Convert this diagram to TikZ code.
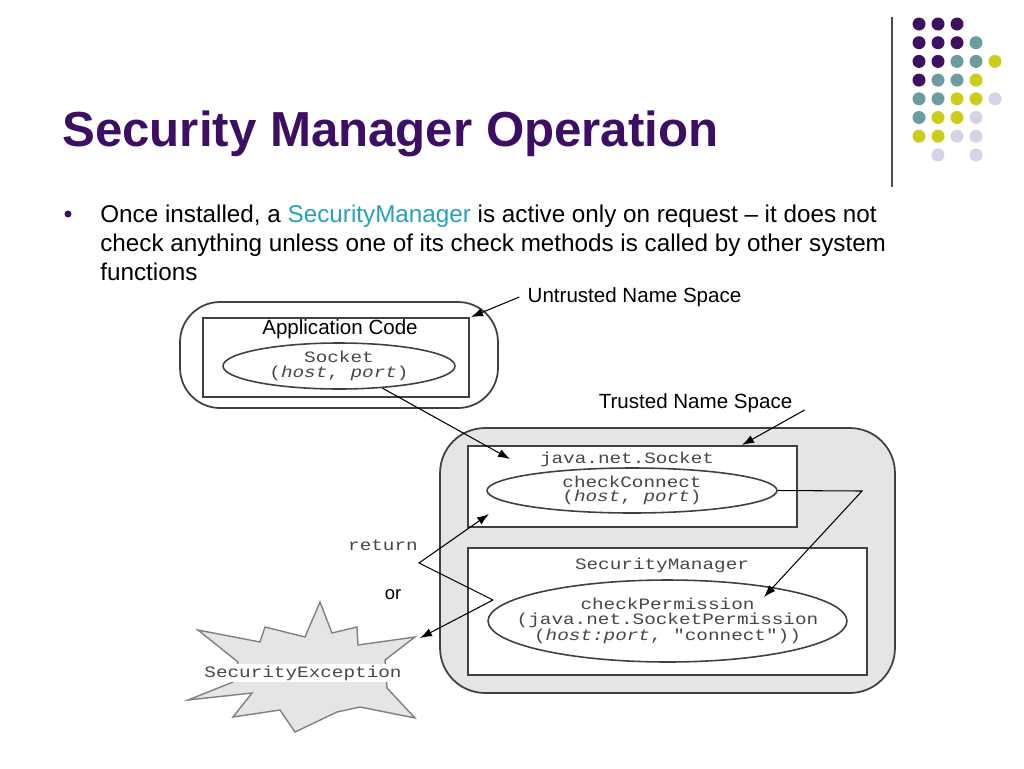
\documentclass[tikz,border=0pt]{standalone}
\usepackage{fontspec}
\setmainfont{Liberation Sans}
\setmonofont{Liberation Mono}
\usetikzlibrary{shapes.geometric,arrows.meta}

\definecolor{titlepurple}{RGB}{60,15,100}
\definecolor{dotpurple}{RGB}{62,16,96}
\definecolor{dotteal}{RGB}{107,156,158}
\definecolor{dotyellow}{RGB}{204,204,26}
\definecolor{dotlilac}{RGB}{212,212,230}
\definecolor{linkblue}{RGB}{38,160,192}

\begin{document}
\begin{tikzpicture}[x=0.02cm, y=-0.02cm,
	nsbox/.style={draw=black!75, line width=1pt, rounded corners=0.8cm, inner sep=0pt},
	codebox/.style={draw=black!75, line width=0.9pt, fill=white, inner sep=0pt},
	callell/.style={ellipse, draw=black!75, line width=0.9pt, fill=white, inner sep=0pt},
	codetxt/.style={font=\ttfamily\fontsize{11}{10}\selectfont, text=black!72, align=center, inner sep=0pt, yscale=0.82, transform shape},
	lbl/.style={font=\fontsize{11.7}{14}\selectfont, inner sep=0pt},
	bodytxt/.style={font=\fontsize{13.8}{16.4}\selectfont, anchor=base west, inner sep=0pt},
	arr/.style={-{Latex[length=0.24cm, width=0.17cm]}, line width=0.6pt},
	]
	\useasboundingbox (0,0) rectangle (1024,768);
	% corner dots
	\foreach \c/\r/\col in {1/1/dotpurple, 2/1/dotpurple, 3/1/dotpurple,
		1/2/dotpurple, 2/2/dotpurple, 3/2/dotpurple, 4/2/dotteal,
		1/3/dotpurple, 2/3/dotpurple, 3/3/dotteal, 4/3/dotteal, 5/3/dotyellow,
		1/4/dotpurple, 2/4/dotteal, 3/4/dotteal, 4/4/dotyellow,
		1/5/dotteal, 2/5/dotteal, 3/5/dotyellow, 4/5/dotyellow, 5/5/dotlilac,
		1/6/dotteal, 2/6/dotyellow, 3/6/dotyellow, 4/6/dotlilac,
		1/7/dotyellow, 2/7/dotyellow, 3/7/dotlilac, 4/7/dotlilac,
		2/8/dotlilac, 4/8/dotlilac}
		\fill[\col] ({919+19*(\c-1)},{24+18.7*(\r-1)}) circle[radius=6.5];
	\draw[black!70, line width=0.9pt] (892,17) -- (892,187);
	% title
	\node[anchor=base west, inner sep=0pt, text=titlepurple, font=\bfseries\fontsize{28}{34}\selectfont] (title) at (62,146) {Security Manager Operation};
	% bullet
	\node[circle, fill=dotpurple, inner sep=0pt, minimum size=0.14cm] (bullet) at (68,214) {};
	\node[bodytxt] (line1) at (100,222) {Once installed, a \textcolor{linkblue}{SecurityManager} is active only on request – it does not};
	\node[bodytxt] (line2) at (100,251) {check anything unless one of its check methods is called by other system};
	\node[bodytxt] (line3) at (100,280) {functions};
	% untrusted name space
	\node[nsbox, minimum width=6.36cm, minimum height=2.12cm] (untrusted) at (339,355) {};
	\node[codebox, minimum width=5.32cm, minimum height=1.58cm] (appcode) at (336,357.5) {};
	\node[lbl] (applbl) at (340,329.5) {Application Code};
	\node[callell, minimum width=4.64cm, minimum height=0.92cm] (sock) at (339,366) {};
	\node[codetxt] (socktxt) at (sock) {Socket\\(\textit{host}, \textit{port})};
	\node[lbl] (untrlbl) at (634.5,297) {Untrusted Name Space};
	% trusted name space
	\node[nsbox, fill=black!10, rounded corners=0.9cm, minimum width=9.1cm, minimum height=5.3cm] (trusted) at (667.5,560.5) {};
	\node[codebox, minimum width=6.58cm, minimum height=1.62cm] (jsock) at (632.5,486.5) {};
	\node[codetxt] (jsocklbl) at (627,459) {java.net.Socket};
	\node[callell, minimum width=5.8cm, minimum height=0.9cm] (chkconn) at (632,490.5) {};
	\node[codetxt] (chkconntxt) at (chkconn) {checkConnect\\(\textit{host}, \textit{port})};
	\node[codebox, minimum width=7.98cm, minimum height=2.54cm] (secmgr) at (667.5,611.5) {};
	\node[codetxt] (secmgrlbl) at (662,565) {SecurityManager};
	\node[callell, minimum width=7.18cm, minimum height=1.64cm] (chkperm) at (667.5,621) {};
	\node[codetxt] (chkpermtxt) at (chkperm) {checkPermission\\(java.net.SocketPermission\\(\textit{host:port}, "connect"))};
	\node[lbl] (trlbl) at (695.5,403) {Trusted Name Space};
	% exception
	\draw[draw=black!50, fill=black!10, line width=0.8pt] (198,630) -- (260,642) -- (265,627) -- (305,637) -- (320,602) -- (332,633) -- (357,627) -- (358,645) -- (415,637) -- (385,660) -- (387,688) -- (415,718) -- (360,707) -- (337,712) -- (295,732) -- (280,710) -- (233,717) -- (252,693) -- (188,700) -- (233,682) -- (238,662) -- cycle;
	\node[codetxt, fill=white, inner sep=1pt] (secexc) at (303,673) {SecurityException};
	\node[codetxt] (retlbl) at (383,545) {return};
	\node[font=\fontsize{10.5}{12}\selectfont, inner sep=0pt] (orlbl) at (393,595) {or};
	% connectors
	\coordinate (untip) at (471,317);
	\coordinate (trtip) at (742,445);
	\coordinate (socktip) at (510,459);
	\coordinate (bend) at (862,491);
	\coordinate (permtip) at (764,597);
	\coordinate (retfrom) at (493,600);
	\coordinate (retbend) at (419,563);
	\coordinate (rettip) at (489,514);
	\coordinate (exctip) at (420,638);
	\draw[arr] ([xshift=-0.16cm]untrlbl.west) -- (untip);
	\draw[arr] ([xshift=0.24cm, yshift=-0.14cm]trlbl.east) -- (trtip);
	\draw[arr] (sock.-27) -- (socktip);
	\draw[arr] (chkconn.east) -- (bend) -- (permtip);
	\draw[arr] (retfrom) -- (retbend) -- (rettip);
	\draw[arr] (retfrom) -- (exctip);
\end{tikzpicture}
\end{document}
